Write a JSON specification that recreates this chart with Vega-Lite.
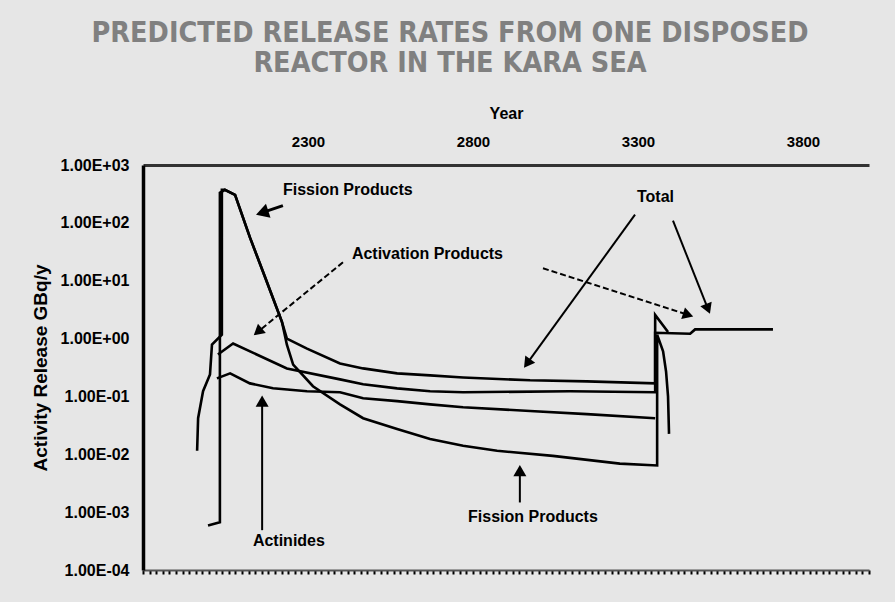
{
  "$schema": "https://vega.github.io/schema/vega-lite/v6.json",
  "autosize": {"type": "none"},
  "width": 726,
  "height": 405,
  "padding": {"left": 143, "top": 165, "right": 26, "bottom": 32},
  "background": "#e6e6e6",
  "title": {
    "text": ["PREDICTED RELEASE RATES FROM ONE DISPOSED", "REACTOR IN THE KARA SEA"],
    "anchor": "middle", "dx": -56, "offset": 28,
    "font": "DejaVu Sans Condensed", "fontWeight": "bold", "fontSize": 28.5,
    "color": "#808080", "lineHeight": 30
  },
  "config": {"view": {"stroke": null}, "axis": {"grid": false}},
  "datasets": {
    "curves": [
      {"series": "Total", "order": 1, "year": 1964, "value": 0.0115},
      {"series": "Total", "order": 2, "year": 1967, "value": 0.042},
      {"series": "Total", "order": 3, "year": 1982, "value": 0.123},
      {"series": "Total", "order": 4, "year": 2003, "value": 0.24},
      {"series": "Total", "order": 5, "year": 2009, "value": 0.785},
      {"series": "Total", "order": 6, "year": 2039, "value": 1.17},
      {"series": "Total", "order": 7, "year": 2039, "value": 6.4},
      {"series": "Total", "order": 8, "year": 2039, "value": 372},
      {"series": "Total", "order": 9, "year": 2048, "value": 372},
      {"series": "Total", "order": 10, "year": 2079, "value": 305},
      {"series": "Total", "order": 11, "year": 2124, "value": 56},
      {"series": "Total", "order": 12, "year": 2170, "value": 11.5},
      {"series": "Total", "order": 13, "year": 2221, "value": 1.95},
      {"series": "Total", "order": 14, "year": 2236, "value": 1.0},
      {"series": "Total", "order": 15, "year": 2297, "value": 0.67},
      {"series": "Total", "order": 16, "year": 2397, "value": 0.37},
      {"series": "Total", "order": 17, "year": 2467, "value": 0.305},
      {"series": "Total", "order": 18, "year": 2570, "value": 0.25},
      {"series": "Total", "order": 19, "year": 2670, "value": 0.231},
      {"series": "Total", "order": 20, "year": 2770, "value": 0.213},
      {"series": "Total", "order": 21, "year": 2973, "value": 0.19},
      {"series": "Total", "order": 22, "year": 3145, "value": 0.182},
      {"series": "Total", "order": 23, "year": 3352, "value": 0.168},
      {"series": "Total", "order": 24, "year": 3352, "value": 1.26},
      {"series": "Total", "order": 25, "year": 3458, "value": 1.21},
      {"series": "Total", "order": 26, "year": 3473, "value": 1.44},
      {"series": "Total", "order": 27, "year": 3709, "value": 1.44},
      {"series": "Fission Products", "order": 1, "year": 1997, "value": 0.00059},
      {"series": "Fission Products", "order": 2, "year": 2033, "value": 0.00067},
      {"series": "Fission Products", "order": 3, "year": 2033, "value": 331},
      {"series": "Fission Products", "order": 4, "year": 2048, "value": 372},
      {"series": "Fission Products", "order": 5, "year": 2079, "value": 305},
      {"series": "Fission Products", "order": 6, "year": 2124, "value": 56},
      {"series": "Fission Products", "order": 7, "year": 2170, "value": 11.5},
      {"series": "Fission Products", "order": 8, "year": 2221, "value": 1.95},
      {"series": "Fission Products", "order": 9, "year": 2236, "value": 0.785},
      {"series": "Fission Products", "order": 10, "year": 2255, "value": 0.356},
      {"series": "Fission Products", "order": 11, "year": 2315, "value": 0.15},
      {"series": "Fission Products", "order": 12, "year": 2397, "value": 0.073},
      {"series": "Fission Products", "order": 13, "year": 2467, "value": 0.042},
      {"series": "Fission Products", "order": 14, "year": 2570, "value": 0.0274},
      {"series": "Fission Products", "order": 15, "year": 2670, "value": 0.0184},
      {"series": "Fission Products", "order": 16, "year": 2770, "value": 0.014},
      {"series": "Fission Products", "order": 17, "year": 2873, "value": 0.0115},
      {"series": "Fission Products", "order": 18, "year": 3042, "value": 0.0094},
      {"series": "Fission Products", "order": 19, "year": 3245, "value": 0.0069},
      {"series": "Fission Products", "order": 20, "year": 3358, "value": 0.0064},
      {"series": "Fission Products", "order": 21, "year": 3358, "value": 1.17},
      {"series": "Fission Products", "order": 22, "year": 3376, "value": 0.6},
      {"series": "Fission Products", "order": 23, "year": 3385, "value": 0.27},
      {"series": "Fission Products", "order": 24, "year": 3391, "value": 0.1},
      {"series": "Fission Products", "order": 25, "year": 3394, "value": 0.0225},
      {"series": "Activation Products", "order": 1, "year": 2027, "value": 0.53},
      {"series": "Activation Products", "order": 2, "year": 2073, "value": 0.82},
      {"series": "Activation Products", "order": 3, "year": 2236, "value": 0.305},
      {"series": "Activation Products", "order": 4, "year": 2397, "value": 0.197},
      {"series": "Activation Products", "order": 5, "year": 2467, "value": 0.162},
      {"series": "Activation Products", "order": 6, "year": 2570, "value": 0.138},
      {"series": "Activation Products", "order": 7, "year": 2670, "value": 0.123},
      {"series": "Activation Products", "order": 8, "year": 2770, "value": 0.118},
      {"series": "Activation Products", "order": 9, "year": 3094, "value": 0.123},
      {"series": "Activation Products", "order": 10, "year": 3352, "value": 0.118},
      {"series": "Activation Products", "order": 11, "year": 3352, "value": 2.57},
      {"series": "Activation Products", "order": 12, "year": 3391, "value": 1.3},
      {"series": "Actinides", "order": 1, "year": 2024, "value": 0.205},
      {"series": "Actinides", "order": 2, "year": 2064, "value": 0.25},
      {"series": "Actinides", "order": 3, "year": 2124, "value": 0.168},
      {"series": "Actinides", "order": 4, "year": 2194, "value": 0.138},
      {"series": "Actinides", "order": 5, "year": 2297, "value": 0.123},
      {"series": "Actinides", "order": 6, "year": 2397, "value": 0.118},
      {"series": "Actinides", "order": 7, "year": 2467, "value": 0.093},
      {"series": "Actinides", "order": 8, "year": 2570, "value": 0.083},
      {"series": "Actinides", "order": 9, "year": 2670, "value": 0.073},
      {"series": "Actinides", "order": 10, "year": 2770, "value": 0.065},
      {"series": "Actinides", "order": 11, "year": 2973, "value": 0.056},
      {"series": "Actinides", "order": 12, "year": 3145, "value": 0.0495},
      {"series": "Actinides", "order": 13, "year": 3352, "value": 0.042}
    ],
    "labels": [
      {"text": "Fission Products", "year": 2224, "value": 372},
      {"text": "Activation Products", "year": 2433, "value": 28.6},
      {"text": "Total", "year": 3297, "value": 282},
      {"text": "Actinides", "year": 2133, "value": 0.000316},
      {"text": "Fission Products", "year": 2785, "value": 0.000815}
    ],
    "arrows": [
      {"id": "a1", "target": "Fission Products", "x1": 2224, "y1": 198, "x2": 2161, "y2": 150},
      {"id": "a2", "target": "Activation Products", "x1": 2406, "y1": 20.8, "x2": 2148, "y2": 1.31},
      {"id": "a3", "target": "Activation Products", "x1": 3012, "y1": 16.4, "x2": 3452, "y2": 2.57},
      {"id": "a4", "target": "Total", "x1": 3291, "y1": 139, "x2": 2964, "y2": 0.372},
      {"id": "a5", "target": "Total", "x1": 3406, "y1": 109, "x2": 3512, "y2": 3.26},
      {"id": "a6", "target": "Actinides", "x1": 2161, "y1": 0.000488, "x2": 2161, "y2": 0.083},
      {"id": "a7", "target": "Fission Products", "x1": 2942, "y1": 0.00147, "x2": 2942, "y2": 0.0052}
    ]
  },
  "resolve": {"axis": {"x": "independent", "y": "independent"}},
  "layer": [
    {
      "data": {"name": "curves"},
      "mark": {"type": "line", "color": "#000000", "strokeWidth": 2.6, "strokeJoin": "miter"},
      "encoding": {
        "x": {"field": "year", "type": "quantitative",
          "scale": {"domain": [1800, 4000], "zero": false, "nice": false},
          "axis": {"orient": "top", "title": "Year", "values": [2300, 2800, 3300, 3800],
            "format": "d", "ticks": false, "domainColor": "#333333", "domainWidth": 3,
            "labelFont": "Liberation Sans", "labelFontWeight": "bold", "labelFontSize": 15,
            "labelColor": "#000000", "labelPadding": 16,
            "titleFont": "Liberation Sans", "titleFontWeight": "bold", "titleFontSize": 16,
            "titleColor": "#000000", "titlePadding": 13}},
        "y": {"field": "value", "type": "quantitative",
          "scale": {"type": "log", "domain": [0.0001, 1000], "nice": false},
          "axis": {"title": "Activity Release GBq/y",
            "values": [0.0001, 0.001, 0.01, 0.1, 1, 10, 100, 1000],
            "labelExpr": "'1.00E' + (datum.value >= 1 ? '+' : '-') + '0' + format(abs(round(log(datum.value) / LN10)), 'd')",
            "ticks": false, "domainColor": "#000000", "domainWidth": 3.5,
            "labelFont": "Liberation Sans", "labelFontWeight": "bold", "labelFontSize": 16,
            "labelColor": "#000000", "labelPadding": 14,
            "titleFont": "Liberation Sans", "titleFontWeight": "bold", "titleFontSize": 19,
            "titleColor": "#000000", "titlePadding": 10}},
        "detail": {"field": "series"},
        "order": {"field": "order", "type": "quantitative"}
      }
    },
    {
      "data": {"name": "arrows"},
      "transform": [{"filter": "datum.target != 'Activation Products' && datum.id != 'a1'"}],
      "mark": {"type": "rule", "color": "#000000", "strokeWidth": 2},
      "encoding": {
        "x": {"field": "x1", "type": "quantitative",
          "axis": {"orient": "bottom", "title": null, "labels": false, "tickCount": 150,
            "domainColor": "#555555", "domainWidth": 2, "tickColor": "#000000",
            "tickSize": 4, "tickWidth": 2}},
        "y": {"field": "y1", "type": "quantitative", "axis": null},
        "x2": {"field": "x2"},
        "y2": {"field": "y2"}
      }
    },
    {
      "data": {"name": "arrows"},
      "transform": [{"filter": "datum.id == 'a1'"}],
      "mark": {"type": "rule", "color": "#000000", "strokeWidth": 3},
      "encoding": {
        "x": {"field": "x1", "type": "quantitative", "axis": null},
        "y": {"field": "y1", "type": "quantitative", "axis": null},
        "x2": {"field": "x2"},
        "y2": {"field": "y2"}
      }
    },
    {
      "data": {"name": "arrows"},
      "transform": [{"filter": "datum.target == 'Activation Products'"}],
      "mark": {"type": "rule", "color": "#000000", "strokeWidth": 2, "strokeDash": [6, 3]},
      "encoding": {
        "x": {"field": "x1", "type": "quantitative", "axis": null},
        "y": {"field": "y1", "type": "quantitative", "axis": null},
        "x2": {"field": "x2"},
        "y2": {"field": "y2"}
      }
    },
    {
      "data": {"name": "arrows"},
      "transform": [{"filter": "datum.id == 'a1'"}],
      "mark": {"type": "point", "shape": "triangle-up", "filled": true, "color": "#000000", "opacity": 1, "size": 220, "angle": 252},
      "encoding": {
        "x": {"field": "x2", "type": "quantitative", "axis": null},
        "y": {"field": "y2", "type": "quantitative", "axis": null}
      }
    },
    {
      "data": {"name": "arrows"},
      "transform": [{"filter": "datum.id == 'a2'"}],
      "mark": {"type": "point", "shape": "triangle-up", "filled": true, "color": "#000000", "opacity": 1, "size": 150, "angle": 230},
      "encoding": {
        "x": {"field": "x2", "type": "quantitative", "axis": null},
        "y": {"field": "y2", "type": "quantitative", "axis": null}
      }
    },
    {
      "data": {"name": "arrows"},
      "transform": [{"filter": "datum.id == 'a3'"}],
      "mark": {"type": "point", "shape": "triangle-up", "filled": true, "color": "#000000", "opacity": 1, "size": 150, "angle": 108},
      "encoding": {
        "x": {"field": "x2", "type": "quantitative", "axis": null},
        "y": {"field": "y2", "type": "quantitative", "axis": null}
      }
    },
    {
      "data": {"name": "arrows"},
      "transform": [{"filter": "datum.id == 'a4'"}],
      "mark": {"type": "point", "shape": "triangle-up", "filled": true, "color": "#000000", "opacity": 1, "size": 150, "angle": 216},
      "encoding": {
        "x": {"field": "x2", "type": "quantitative", "axis": null},
        "y": {"field": "y2", "type": "quantitative", "axis": null}
      }
    },
    {
      "data": {"name": "arrows"},
      "transform": [{"filter": "datum.id == 'a5'"}],
      "mark": {"type": "point", "shape": "triangle-up", "filled": true, "color": "#000000", "opacity": 1, "size": 150, "angle": 158},
      "encoding": {
        "x": {"field": "x2", "type": "quantitative", "axis": null},
        "y": {"field": "y2", "type": "quantitative", "axis": null}
      }
    },
    {
      "data": {"name": "arrows"},
      "transform": [{"filter": "datum.id == 'a6' || datum.id == 'a7'"}],
      "mark": {"type": "point", "shape": "triangle-up", "filled": true, "color": "#000000", "opacity": 1, "size": 170, "angle": 0},
      "encoding": {
        "x": {"field": "x2", "type": "quantitative", "axis": null},
        "y": {"field": "y2", "type": "quantitative", "axis": null}
      }
    },
    {
      "data": {"name": "labels"},
      "mark": {"type": "text", "align": "left", "baseline": "middle", "font": "Liberation Sans", "fontWeight": "bold", "fontSize": 16, "color": "#000000"},
      "encoding": {
        "x": {"field": "year", "type": "quantitative", "axis": null},
        "y": {"field": "value", "type": "quantitative", "axis": null},
        "text": {"field": "text"}
      }
    }
  ]
}
